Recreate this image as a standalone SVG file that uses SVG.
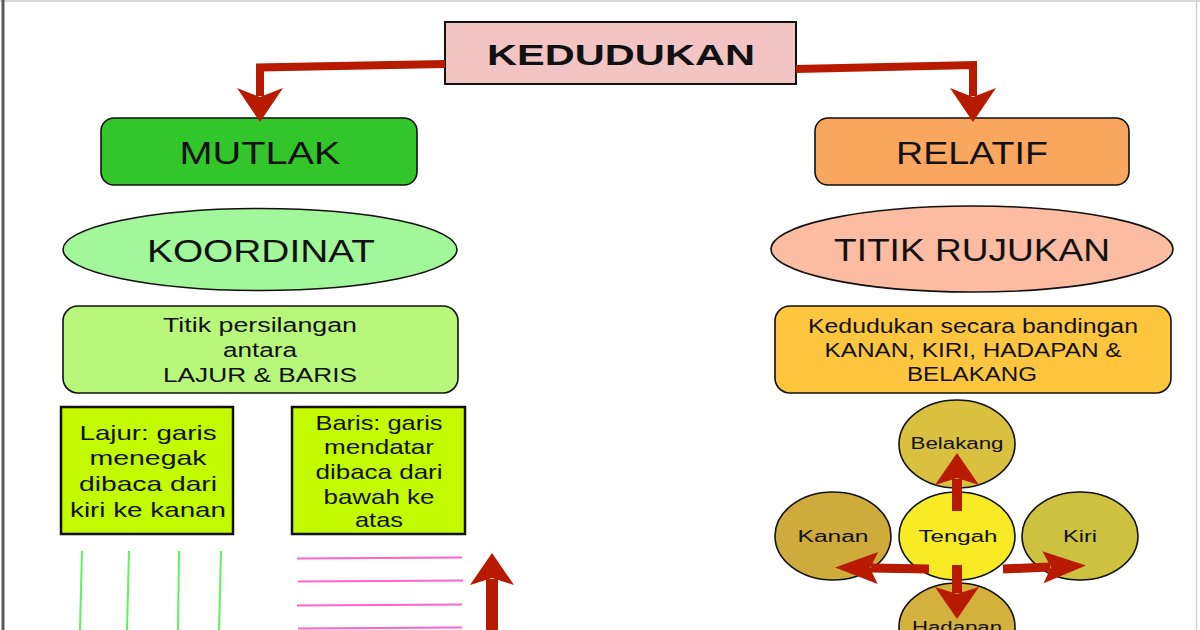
<svg xmlns="http://www.w3.org/2000/svg" width="1200" height="630" viewBox="0 0 1200 630">
<defs>
<style>
text{font-family:"Liberation Sans",Arial,Helvetica,sans-serif;fill:#111;text-anchor:middle}
.big{font-size:31px}
.mid{font-size:20px}
.box{font-size:21px}
.sm{font-size:16px}
.node{stroke:#111;stroke-width:1.6}
.sq{stroke:#111;stroke-width:2.5}
.conn{fill:none;stroke:#b81a00;stroke-linejoin:miter}
.grn{stroke:#5ef25e;stroke-width:2}
.pnk{stroke:#ff63c8;stroke-width:2}
</style>
<marker id="headL" markerUnits="userSpaceOnUse" viewBox="0 -23 34 46" markerWidth="34" markerHeight="46" refX="8" refY="0" orient="auto" overflow="visible">
<path d="M0,-23 L34,0 L0,23 L9,0 Z" fill="#b81a00"/>
</marker>
<marker id="headV" markerUnits="userSpaceOnUse" viewBox="0 -22 32 44" markerWidth="32" markerHeight="44" refX="6" refY="0" orient="auto" overflow="visible">
<path d="M0,-22 L32,0 L0,22 L7,0 Z" fill="#b81a00"/>
</marker>
<marker id="headH" markerUnits="userSpaceOnUse" viewBox="0 -16 43 32" markerWidth="43" markerHeight="32" refX="7" refY="0" orient="auto" overflow="visible">
<path d="M0,-16 L43,0 L0,16 L8,0 Z" fill="#b81a00"/>
</marker>
</defs>

<rect x="0" y="0" width="1200" height="630" fill="#ffffff"/>
<line x1="0" y1="1" x2="1200" y2="1" stroke="#d8d8d8" stroke-width="2"/>
<line x1="3" y1="0" x2="3" y2="630" stroke="#5a5a5a" stroke-width="3"/>
<line x1="1196.5" y1="0" x2="1196.5" y2="630" stroke="#d0d0d0" stroke-width="1.5"/>

<g id="kedudukan">
<rect x="445" y="22" width="351" height="62" fill="#f2c5c4" stroke="#111" stroke-width="2"/>
<text x="621" y="65" font-size="30" font-weight="bold" textLength="268" lengthAdjust="spacingAndGlyphs">KEDUDUKAN</text>
</g>

<g id="mutlak">
<rect class="node" x="101" y="118" width="316" height="67" rx="13" fill="#33c62b"/>
<text class="big" x="260" y="164" textLength="161" lengthAdjust="spacingAndGlyphs">MUTLAK</text>
</g>

<g id="relatif">
<rect class="node" x="815" y="118" width="314" height="67" rx="13" fill="#f9a65f"/>
<text class="big" x="972" y="164" textLength="152" lengthAdjust="spacingAndGlyphs">RELATIF</text>
</g>

<g id="koordinat">
<ellipse class="node" cx="260" cy="249.5" rx="197" ry="41" fill="#a1f799"/>
<text class="big" x="261" y="262" textLength="228" lengthAdjust="spacingAndGlyphs">KOORDINAT</text>
</g>

<g id="titik-rujukan">
<ellipse class="node" cx="972" cy="249" rx="201" ry="43" fill="#fbbca1"/>
<text class="big" x="972" y="261" textLength="276" lengthAdjust="spacingAndGlyphs">TITIK RUJUKAN</text>
</g>

<g id="titik-persilangan">
<rect class="node" x="63" y="306" width="395" height="87" rx="15" fill="#b9f77b"/>
<text class="mid" x="260" y="332" textLength="194" lengthAdjust="spacingAndGlyphs">Titik persilangan</text>
<text class="mid" x="260" y="357" textLength="74" lengthAdjust="spacingAndGlyphs">antara</text>
<text class="mid" x="260" y="382" textLength="194" lengthAdjust="spacingAndGlyphs">LAJUR &amp; BARIS</text>
</g>

<g id="bandingan">
<rect class="node" x="775" y="306" width="396" height="87" rx="15" fill="#fec63f"/>
<text class="mid" x="973" y="333" textLength="330" lengthAdjust="spacingAndGlyphs">Kedudukan secara bandingan</text>
<text class="mid" x="973" y="357" textLength="297" lengthAdjust="spacingAndGlyphs">KANAN, KIRI, HADAPAN &amp;</text>
<text class="mid" x="972" y="381" textLength="130" lengthAdjust="spacingAndGlyphs">BELAKANG</text>
</g>

<g id="lajur">
<rect class="sq" x="61" y="407" width="172" height="127" fill="#c3fa00"/>
<text class="box" x="148" y="440" textLength="137" lengthAdjust="spacingAndGlyphs">Lajur: garis</text>
<text class="box" x="148" y="465" textLength="117" lengthAdjust="spacingAndGlyphs">menegak</text>
<text class="box" x="148" y="491" textLength="138" lengthAdjust="spacingAndGlyphs">dibaca dari</text>
<text class="box" x="148" y="517" textLength="156" lengthAdjust="spacingAndGlyphs">kiri ke kanan</text>
</g>

<g id="baris">
<rect class="sq" x="292" y="407" width="173" height="127" fill="#c3fa00"/>
<text class="box" x="379" y="430" textLength="127" lengthAdjust="spacingAndGlyphs">Baris: garis</text>
<text class="box" x="379" y="454" textLength="110" lengthAdjust="spacingAndGlyphs">mendatar</text>
<text class="box" x="379" y="479" textLength="127" lengthAdjust="spacingAndGlyphs">dibaca dari</text>
<text class="box" x="379" y="504" textLength="111" lengthAdjust="spacingAndGlyphs">bawah ke</text>
<text class="box" x="379" y="527" textLength="48" lengthAdjust="spacingAndGlyphs">atas</text>
</g>

<g id="lajur-lines">
<line class="grn" x1="82" y1="551" x2="80" y2="630"/>
<line class="grn" x1="129" y1="551" x2="127" y2="630"/>
<line class="grn" x1="179" y1="551" x2="178" y2="630"/>
<line class="grn" x1="221" y1="551" x2="219" y2="630"/>
</g>

<g id="baris-lines">
<line class="pnk" x1="297" y1="558.5" x2="462" y2="557.5"/>
<line class="pnk" x1="298" y1="581.5" x2="463" y2="580.5"/>
<line class="pnk" x1="297" y1="605.5" x2="462" y2="604.5"/>
<line class="pnk" x1="298" y1="628.5" x2="462" y2="627.5"/>
</g>

<g id="belakang">
<ellipse class="node" cx="957" cy="444" rx="58" ry="44" fill="#d9c13f"/>
<text class="sm" x="957" y="449" textLength="93" lengthAdjust="spacingAndGlyphs">Belakang</text>
</g>
<g id="kanan">
<ellipse class="node" cx="833" cy="536" rx="58" ry="44" fill="#cfab3b"/>
<text class="sm" x="833" y="542" textLength="71" lengthAdjust="spacingAndGlyphs">Kanan</text>
</g>
<g id="kiri">
<ellipse class="node" cx="1080" cy="536" rx="58" ry="44" fill="#cdc23f"/>
<text class="sm" x="1080" y="542" textLength="34" lengthAdjust="spacingAndGlyphs">Kiri</text>
</g>
<g id="hadapan">
<ellipse class="node" cx="957" cy="627" rx="58" ry="44" fill="#d3b13c"/>
<text class="sm" x="957" y="633" textLength="90" lengthAdjust="spacingAndGlyphs">Hadapan</text>
</g>
<g id="tengah">
<ellipse class="node" cx="957" cy="536" rx="58" ry="44" fill="#f8ea24"/>
<text class="sm" x="958" y="542" textLength="79" lengthAdjust="spacingAndGlyphs">Tengah</text>
</g>

<g id="connectors">
<path class="conn" stroke-width="8" d="M445,64 L260,67.5 L260,96" marker-end="url(#headL)"/>
<path class="conn" stroke-width="8" d="M796,69 L973,65 L973,96" marker-end="url(#headL)"/>
<path class="conn" stroke-width="12" d="M492,630 L492,579" marker-end="url(#headV)"/>
<path class="conn" stroke-width="10" d="M957,511 L957,479" marker-end="url(#headV)"/>
<path class="conn" stroke-width="10" d="M957,565 L957,593" marker-end="url(#headV)"/>
<path class="conn" stroke-width="9" d="M929,569 L871,568" marker-end="url(#headH)"/>
<path class="conn" stroke-width="9" d="M1003,569 L1050,567" marker-end="url(#headH)"/>
</g>
</svg>
